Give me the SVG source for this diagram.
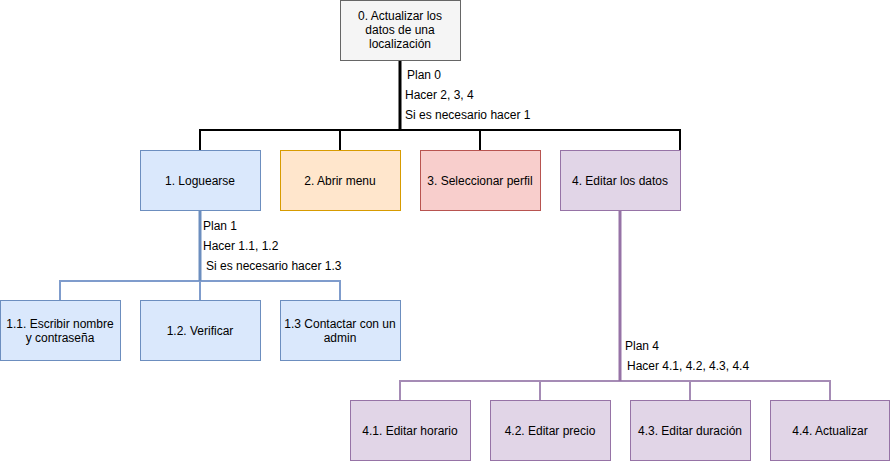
<svg xmlns="http://www.w3.org/2000/svg" width="891" height="461" viewBox="0 0 891 461">
<style>
text{font-family:"Liberation Sans",Arial,sans-serif;font-size:12px;fill:#000}
.c{text-anchor:middle}
.gray{fill:#f5f5f5;stroke:#666666}
.blue{fill:#dae8fc;stroke:#6c8ebf}
.orange{fill:#ffe6cc;stroke:#d79b00}
.red{fill:#f8cecc;stroke:#b85450}
.purple{fill:#e1d5e7;stroke:#9673a6}
.e{fill:none;stroke-width:2}
</style>
<rect width="891" height="461" fill="#ffffff"/>
<g id="connectors">
<path class="e" stroke="#000000" d="M400 60V130M200 150V130H680V150M340 130V150M480 130V150"/>
<path class="e" stroke="#7f9ccc" d="M200 210V281M60 300V281H340V300M200 281V300"/>
<path class="e" stroke="#a58bb5" d="M620 210V381M400 400V381H830V400M540 381V400M690 381V400"/>
<path fill="none" stroke="#9673a6" stroke-width="3" d="M620 210V381"/>
<path fill="none" stroke="#6c8ebf" stroke-width="3" d="M200 210V281"/>
<path fill="none" stroke="#000000" stroke-width="3" d="M400 60V130"/>
<text x="407" y="79">Plan 0</text>
<text x="405" y="99">Hacer 2, 3, 4</text>
<text x="405" y="119">Si es necesario hacer 1</text>
<text x="203" y="230">Plan 1</text>
<text x="203" y="250">Hacer 1.1, 1.2</text>
<text x="206" y="270">Si es necesario hacer 1.3</text>
<text x="625" y="350">Plan 4</text>
<text x="627" y="370">Hacer 4.1, 4.2, 4.3, 4.4</text>
</g>
<g id="n0"><rect class="gray" x="340.5" y="0.5" width="120" height="60"/><text class="c" x="400" y="20">0. Actualizar los</text><text class="c" x="400" y="34">datos de una</text><text class="c" x="400" y="48">localización</text></g>
<g id="n1"><rect class="blue" x="140.5" y="150.5" width="120" height="60"/><text class="c" x="200" y="185">1. Loguearse</text></g>
<g id="n2"><rect class="orange" x="280.5" y="150.5" width="120" height="60"/><text class="c" x="340" y="185">2. Abrir menu</text></g>
<g id="n3"><rect class="red" x="420.5" y="150.5" width="120" height="60"/><text class="c" x="480" y="185">3. Seleccionar perfil</text></g>
<g id="n4"><rect class="purple" x="560.5" y="150.5" width="120" height="60"/><text class="c" x="620" y="185">4. Editar los datos</text></g>
<g id="n11"><rect class="blue" x="0.5" y="300.5" width="120" height="60"/><text class="c" x="60" y="328">1.1. Escribir nombre</text><text class="c" x="60" y="342">y contraseña</text></g>
<g id="n12"><rect class="blue" x="140.5" y="300.5" width="120" height="60"/><text class="c" x="200" y="335">1.2. Verificar</text></g>
<g id="n13"><rect class="blue" x="280.5" y="300.5" width="120" height="60"/><text class="c" x="340" y="328">1.3 Contactar con un</text><text class="c" x="340" y="342">admin</text></g>
<g id="n41"><rect class="purple" x="350.5" y="400.5" width="120" height="60"/><text class="c" x="410" y="435">4.1. Editar horario</text></g>
<g id="n42"><rect class="purple" x="490.5" y="400.5" width="120" height="60"/><text class="c" x="550" y="435">4.2. Editar precio</text></g>
<g id="n43"><rect class="purple" x="630.5" y="400.5" width="120" height="60"/><text class="c" x="690" y="435">4.3. Editar duración</text></g>
<g id="n44"><rect class="purple" x="770.5" y="400.5" width="119" height="60"/><text class="c" x="830" y="435">4.4. Actualizar</text></g>
</svg>
